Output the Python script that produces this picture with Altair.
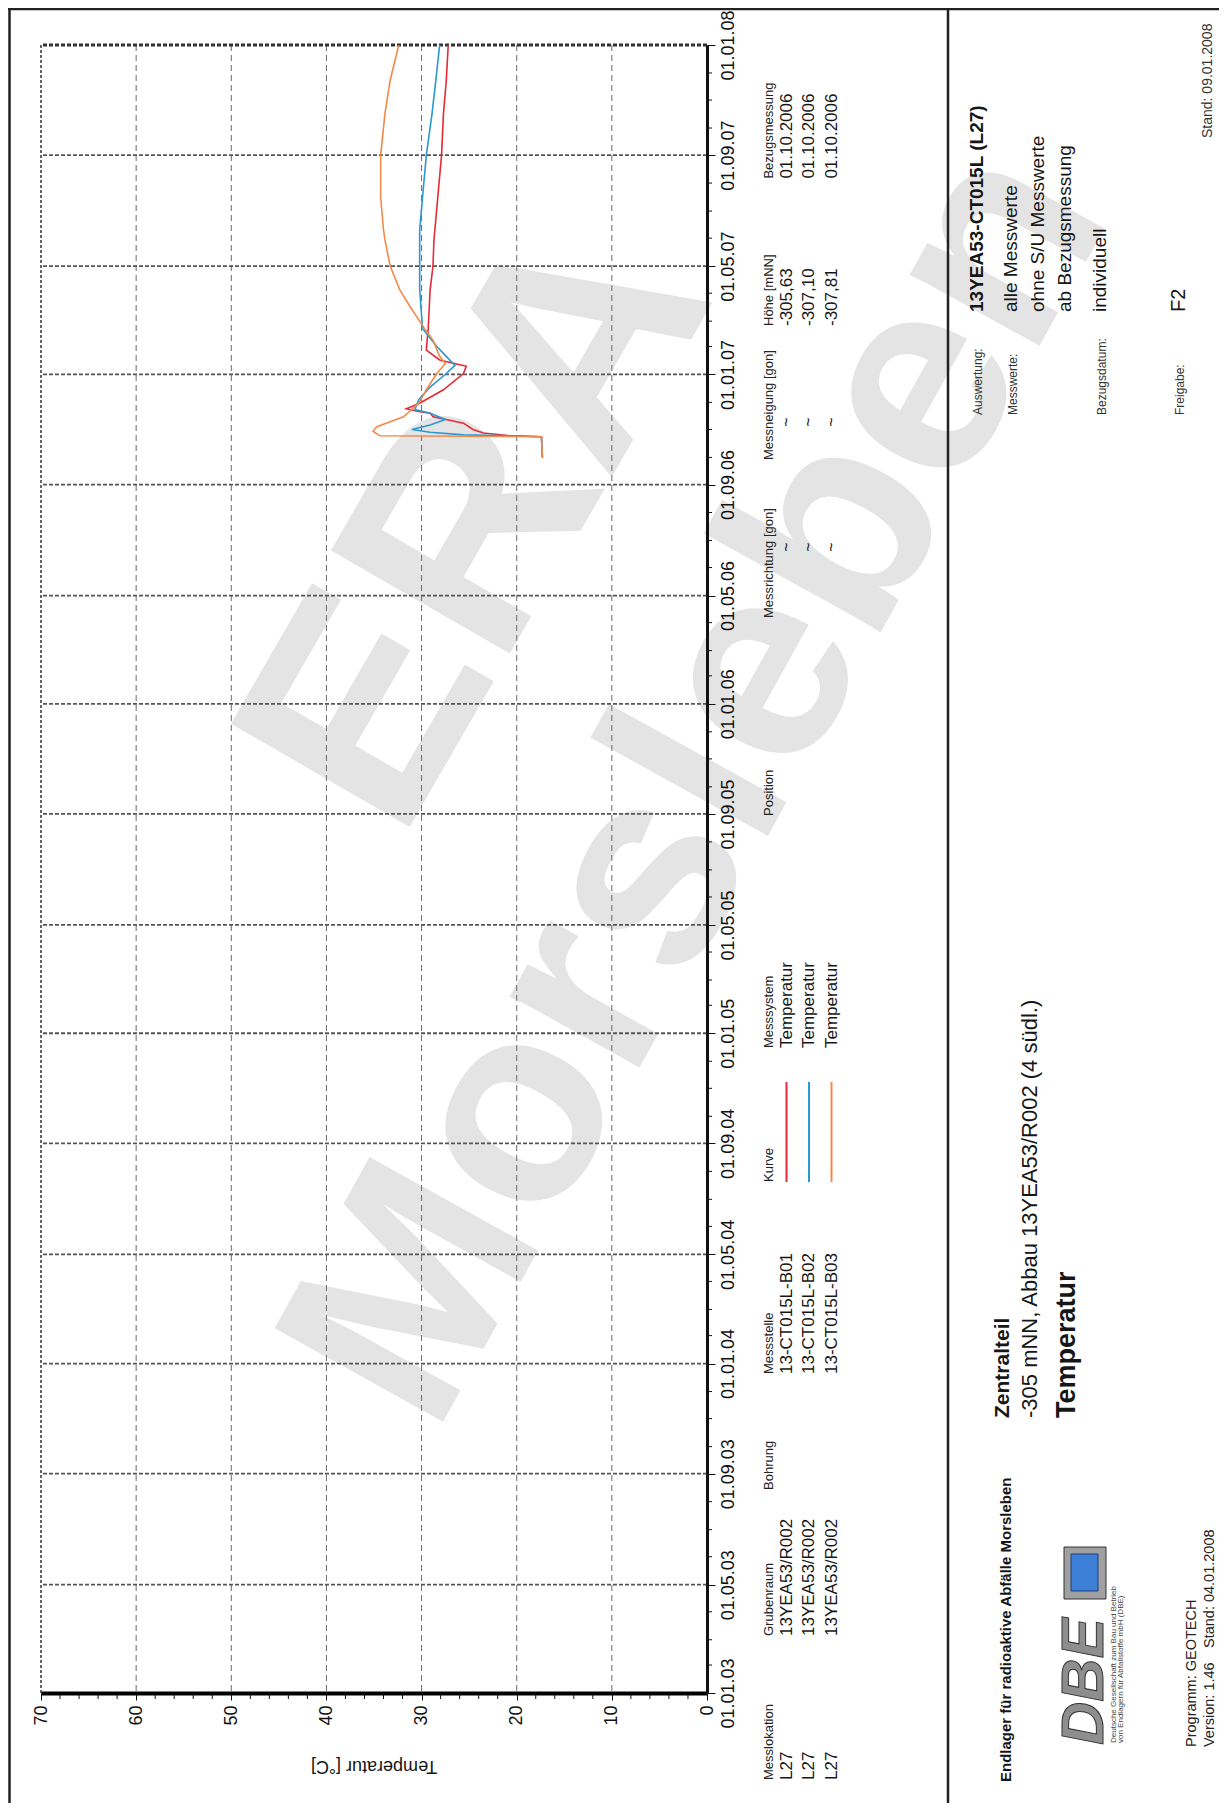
import altair as alt
import pandas as pd

# ---------------- data ----------------
sensors = ["13-CT015L-B01", "13-CT015L-B02", "13-CT015L-B03"]
colors = ["#e42b36", "#2a98d2", "#f4894a"]

b01_dates = ["2006-10-01", "2006-10-24", "2006-10-25", "2006-10-28", "2006-11-01", "2006-11-08",
             "2006-11-12", "2006-11-15", "2006-11-19", "2006-11-21", "2006-11-24", "2006-11-30",
             "2006-12-15", "2007-01-02", "2007-01-10", "2007-01-17", "2007-01-28", "2007-02-21",
             "2007-04-05", "2007-05-01", "2007-05-30", "2007-06-10", "2007-07-16", "2007-09-01",
             "2007-10-17", "2007-11-23", "2008-01-01"]
b01_temp = [17.3, 17.4, 20.7, 23.5, 24.6, 25.6, 27.4, 28.8, 29.1, 30.3, 31.6, 30.2, 27.7, 25.6,
            25.3, 28.1, 29.5, 29.3, 29.1, 28.8, 28.7, 28.6, 28.3, 27.9, 27.7, 27.4, 27.2]

b02_dates = ["2006-10-01", "2006-10-24", "2006-10-25", "2006-10-26", "2006-10-29", "2006-11-01",
             "2006-11-06", "2006-11-12", "2006-11-19", "2006-11-23", "2006-12-04", "2006-12-18",
             "2007-01-02", "2007-01-11", "2007-01-21", "2007-02-01", "2007-02-21", "2007-04-05",
             "2007-05-01", "2007-05-30", "2007-06-10", "2007-07-16", "2007-09-01", "2007-10-17",
             "2007-11-23", "2008-01-01"]
b02_temp = [17.3, 17.4, 20.7, 25.6, 29.1, 31.0, 29.1, 27.5, 29.1, 30.7, 30.3, 29.1, 27.4, 26.5,
            27.4, 28.4, 29.9, 30.2, 30.2, 30.2, 30.2, 29.9, 29.5, 28.9, 28.5, 28.1]

b03_dates = ["2006-10-01", "2006-10-24", "2006-10-25", "2006-10-30", "2006-11-04", "2006-11-15",
             "2006-11-30", "2006-12-15", "2007-01-02", "2007-01-13", "2007-01-21", "2007-02-08",
             "2007-02-21", "2007-03-17", "2007-04-05", "2007-05-01", "2007-05-30", "2007-06-10",
             "2007-07-16", "2007-09-01", "2007-10-17", "2007-11-23", "2008-01-01"]
b03_temp = [17.3, 17.4, 34.4, 35.1, 34.7, 31.9, 30.3, 29.5, 28.4, 27.5, 28.1, 28.8, 29.7, 31.2,
            32.3, 33.3, 33.85, 34.0, 34.3, 34.3, 33.85, 33.3, 32.4]

temp_labels = [0, 10, 20, 30, 40, 50, 60, 70]
temp_grid = [10, 20, 30, 40, 50, 60]
temp_minor = [2, 4, 6, 8, 12, 14, 16, 18, 22, 24, 26, 28, 32, 34, 36, 38,
              42, 44, 46, 48, 52, 54, 56, 58, 62, 64, 66, 68]
temp_min, temp_max = 0, 70

date_ticks = ["2003-01-01", "2003-05-01", "2003-09-01", "2004-01-01", "2004-05-01", "2004-09-01",
              "2005-01-01", "2005-05-01", "2005-09-01", "2006-01-01", "2006-05-01", "2006-09-01",
              "2007-01-01", "2007-05-01", "2007-09-01", "2008-01-01"]
date_start, date_end = "2003-01-01", "2008-01-01"

# table text
messlokation = ["L27", "L27", "L27"]
grubenraum = ["13YEA53/R002", "13YEA53/R002", "13YEA53/R002"]
messstelle = sensors
messsystem = ["Temperatur", "Temperatur", "Temperatur"]
messrichtung = ["~", "~", "~"]
messneigung = ["~", "~", "~"]
hoehe = ["-305,63", "-307,10", "-307,81"]
bezugsmessung = ["01.10.2006", "01.10.2006", "01.10.2006"]

# ---------------- helpers ----------------
FONT = "Liberation Sans, Arial, Helvetica, sans-serif"
W, H = 666, 1648
OX, OY = 41, 45  # page position of plot origin


def ms(s):
    return int(pd.Timestamp(s, tz="UTC").timestamp() * 1000)


rows = []
for name, ds, ts in [(sensors[0], b01_dates, b01_temp), (sensors[1], b02_dates, b02_temp),
                     (sensors[2], b03_dates, b03_temp)]:
    for i, (d, t) in enumerate(zip(ds, ts)):
        rows.append({"sensor": name, "date": d, "temp": t, "idx": i})
df = pd.DataFrame(rows)

xscale = alt.Scale(domain=[temp_min, temp_max], reverse=True, nice=False, zero=False)
yscale = alt.Scale(type="utc", domain=[ms(date_start), ms(date_end)], nice=False)

x_axis = alt.Axis(
    values=temp_labels, tickSize=7, tickColor="#111", tickWidth=1,
    domainColor="#000", domainWidth=4, labelAngle=270, labelAlign="right",
    labelBaseline="middle", labelFont=FONT, labelFontSize=18, labelColor="#111",
    labelPadding=5, labelFlush=False, labelOverlap=False, grid=False, title=None, zindex=1)
y_axis = alt.Axis(
    orient="right", values=[ms(d) for d in date_ticks],
    labelExpr="utcFormat(datum.value, '%d.%m.%y')",
    tickSize=8, tickColor="#111", tickWidth=1, domainColor="#111", domainWidth=3,
    labelAngle=270, labelAlign="center", labelBaseline="top", labelPadding=4,
    labelFont=FONT, labelFontSize=18, labelColor="#111", labelFlush=False,
    labelOverlap=False, grid=False, title=None, zindex=1)

all_months = [d.strftime("%Y-%m-%d") for d in pd.date_range(date_start, date_end, freq="MS")]
date_minor = [d for d in all_months if d not in date_ticks]
date_grid = date_ticks[1:-1]

ONE = pd.DataFrame({"k": [0]})


def X(field):
    return alt.X(field, scale=xscale, axis=x_axis)


def Y(field):
    return alt.Y(field, scale=yscale, axis=y_axis)


def txt(s, xf, yf, size, weight="normal", align="left", angle=270, color="#161616",
        baseline="middle", style="normal", font=FONT, **kw):
    return alt.Chart(ONE).mark_text(text=s, angle=angle, align=align, baseline=baseline,
                                    fontSize=size, fontWeight=weight, fontStyle=style,
                                    font=font, color=color, **kw).encode(
        x=alt.value(xf - OX), y=alt.value(yf - OY))


def vline(xf, y1, y2, width=2.5, color="#222"):
    return alt.Chart(ONE).mark_rule(strokeWidth=width, color=color).encode(
        x=alt.value(xf - OX), y=alt.value(y1 - OY), y2=alt.value(y2 - OY))


def hline(yf, x1, x2, width=2.5, color="#222"):
    return alt.Chart(ONE).mark_rule(strokeWidth=width, color=color).encode(
        y=alt.value(yf - OY), x=alt.value(x1 - OX), x2=alt.value(x2 - OX))


layers = []

lines = alt.Chart(df).mark_line(strokeWidth=1.6).encode(
    x=X("temp:Q"),
    y=Y("date:T"),
    color=alt.Color("sensor:N", scale=alt.Scale(domain=sensors, range=colors), legend=None),
    order=alt.Order("idx:Q"),
)

# watermark
layers.append(txt("ERA", 480, 525, 300, weight="bold", align="center", angle=300, color="#e4e4e4"))
layers.append(txt("Morsleben", 700, 785, 280, weight="bold", align="center", angle=299, color="#e4e4e4"))

# grid lines
layers.append(alt.Chart(pd.DataFrame({"t": temp_grid})).mark_rule(
    color="#6a6a6a", strokeWidth=1, strokeDash=[6, 4]).encode(x=X("t:Q")))
layers.append(alt.Chart(pd.DataFrame({"d": date_grid})).mark_rule(
    color="#555", strokeWidth=1.8, strokeDash=[4, 2]).encode(y=Y("d:T")))
# left / top borders of plot
layers.append(alt.Chart(pd.DataFrame({"t": [temp_max]})).mark_rule(
    color="#333", strokeWidth=1.5, strokeDash=[3, 2]).encode(x=X("t:Q")))
layers.append(alt.Chart(pd.DataFrame({"d": [date_end]})).mark_rule(
    color="#333", strokeWidth=3, strokeDash=[4, 2]).encode(y=Y("d:T")))

layers.append(lines)

# minor ticks
layers.append(alt.Chart(pd.DataFrame({"t": temp_minor})).mark_rule(color="#111", strokeWidth=1).encode(
    x=X("t:Q"), y=alt.value(H), y2=alt.value(H + 6)))
layers.append(alt.Chart(pd.DataFrame({"d": date_minor})).mark_rule(color="#111", strokeWidth=1).encode(
    y=Y("d:T"), x=alt.value(W), x2=alt.value(W + 5)))

# axis title (upside down as in the scan)
layers.append(txt("Temperatur [°C]", 374, 1766, 18, align="center", angle=180))

# table below plot
HX, R1, R2, R3 = 768.5, 786.5, 809, 831.5
rx = [R1, R2, R3]
table = [("Messlokation", messlokation, 1780), ("Grubenraum", grubenraum, 1636),
         ("Bohrung", None, 1490), ("Messstelle", messstelle, 1374), ("Kurve", None, 1182),
         ("Messsystem", messsystem, 1048), ("Position", None, 816),
         ("Messrichtung [gon]", None, 618), ("Messneigung [gon]", None, 460),
         ("Höhe [mNN]", hoehe, 326), ("Bezugsmessung", bezugsmessung, 178.6)]
for head, vals, y0 in table:
    layers.append(txt(head, HX, y0, 13, color="#222"))
    if vals:
        for v, xr in zip(vals, rx):
            layers.append(txt(v, xr, y0, 17))
for v, xr in zip(messrichtung, rx):
    layers.append(txt(v, xr, 547, 16, align="center"))
for v, xr in zip(messneigung, rx):
    layers.append(txt(v, xr, 422, 16, align="center"))
# Kurve legend strokes
for c, xr in zip(colors, rx):
    layers.append(vline(xr, 1182, 1082, width=2, color=c))

# right panel
layers.append(txt("Auswertung:", 978, 415, 12, color="#333"))
layers.append(txt("13YEA53-CT015L (L27)", 977, 312, 19, weight="bold"))
layers.append(txt("Messwerte:", 1013, 415, 12, color="#333"))
layers.append(txt("alle Messwerte", 1011, 312, 19))
layers.append(txt("ohne S/U Messwerte", 1038, 312, 19))
layers.append(txt("ab Bezugsmessung", 1065, 312, 19))
layers.append(txt("Bezugsdatum:", 1101.5, 415, 12, color="#333"))
layers.append(txt("individuell", 1100, 312, 19))
layers.append(txt("Freigabe:", 1180, 415, 12, color="#333"))
layers.append(txt("F2", 1179, 312, 20))
layers.append(txt("Stand:  09.01.2008", 1207.5, 138, 14, color="#333"))

layers.append(txt("Endlager für radioaktive Abfälle Morsleben", 1006, 1782, 15, weight="bold"))
layers.append(txt("Zentralteil", 1002.5, 1418, 21, weight="bold"))
layers.append(txt("-305 mNN, Abbau 13YEA53/R002 (4 südl.)", 1030, 1418, 22))
layers.append(txt("Temperatur", 1067, 1418, 27, weight="bold"))

# DBE logo (approximation)
layers.append(alt.Chart(ONE).mark_rect(fill="#a0a0a0", stroke="#333", strokeWidth=1).encode(
    x=alt.value(1064 - OX), x2=alt.value(1106 - OX), y=alt.value(1547 - OY), y2=alt.value(1599 - OY)))
layers.append(alt.Chart(ONE).mark_rect(fill="#3d7fd6", stroke="#1d3f80", strokeWidth=1).encode(
    x=alt.value(1071 - OX), x2=alt.value(1098 - OX), y=alt.value(1554 - OY), y2=alt.value(1591 - OY)))
layers.append(txt("DBE", 1085, 1745, 60, weight="bold", style="italic", color="#8e8e8e",
                  stroke="#333", strokeWidth=1))
layers.append(txt("Deutsche Gesellschaft zum Bau und Betrieb", 1114, 1743, 8, color="#444"))
layers.append(txt("von Endlagern für Abfallstoffe mbH (DBE)", 1121, 1743, 8, color="#444"))

layers.append(txt("Programm: GEOTECH", 1192, 1747, 14.5, color="#222"))
layers.append(txt("Version:  1.46", 1210, 1747, 14.5, color="#222"))
layers.append(txt("Stand: 04.01.2008", 1210, 1648, 14.5, color="#222"))

# page frame
layers.append(hline(9, 8, 1227, width=2.5))
layers.append(vline(9.5, 9, 1803, width=2.5))
layers.append(vline(948, 9, 1803, width=2.5))

chart = alt.layer(*layers).properties(
    width=W, height=H,
    autosize=alt.AutoSizeParams(type="none"),
    padding={"left": 33, "top": 37, "right": 512, "bottom": 110},
).configure_view(strokeWidth=0)

chart.save("out.html", embed_options={"renderer": "svg", "actions": False})
